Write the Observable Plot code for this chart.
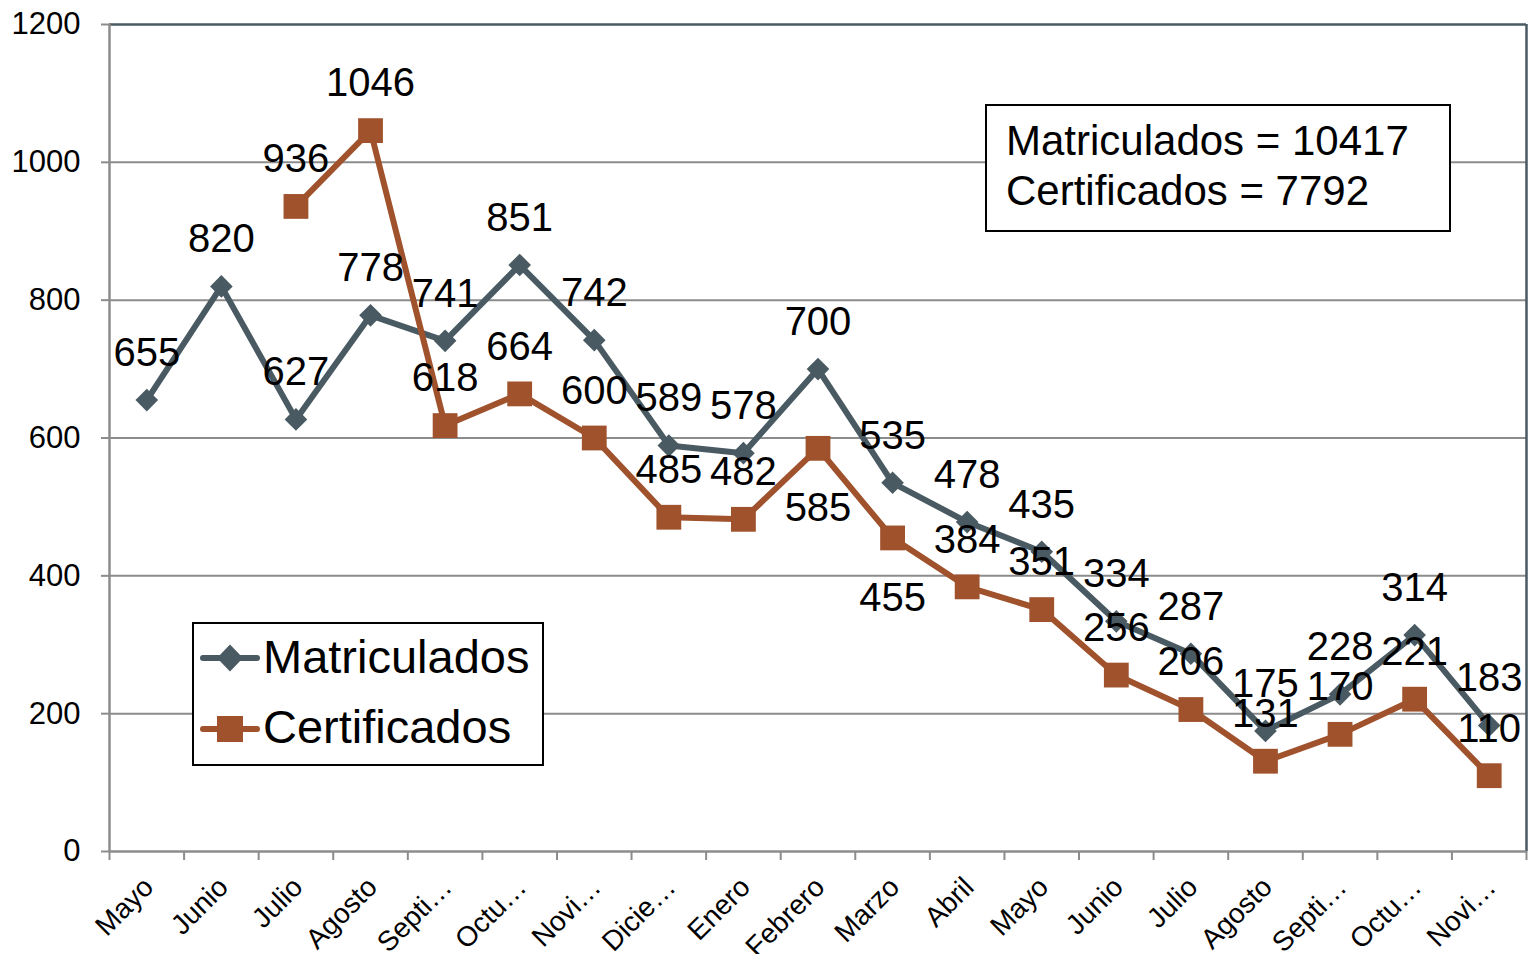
<!DOCTYPE html>
<html><head><meta charset="utf-8">
<script src="https://cdn.jsdelivr.net/npm/d3@7"></script>
<script src="https://cdn.jsdelivr.net/npm/@observablehq/plot@0.6"></script>
<style>body{margin:0;background:#fff;} #chart svg{display:block;}</style>
</head><body><div id="chart"></div>
<script>
const months = ["Mayo","Junio","Julio","Agosto","Septi…","Octu…","Novi…","Dicie…","Enero","Febrero","Marzo","Abril","Mayo","Junio","Julio","Agosto","Septi…","Octu…","Novi…"];
const matriculados = [655,820,627,778,741,851,742,589,578,700,535,478,435,334,287,175,228,314,183];
const certificados = [null,null,936,1046,618,664,600,485,482,585,455,384,351,256,206,131,170,221,110];
const yTicks = [0,200,400,600,800,1000,1200];
const seriesNames = ["Matriculados","Certificados"];
const totals = ["Matriculados = 10417","Certificados = 7792"];
const certLabelBelow = [9,10];

const SLATE = "#4a5a63", RUST = "#a0522d", GRAY = "#8c8c8c";
const FONT = "'Liberation Sans', Arial, Helvetica, sans-serif";

const matRows = matriculados.map((v,i)=>({i, x:i+0.5, v}));
const certRows = certificados.map((v,i)=>({i, x:i+0.5, v})).filter(d=>d.v!=null);
const monthRows = months.map((m,i)=>({x:i+0.5, m}));

const svg = Plot.plot({
  width: 1528, height: 954,
  marginLeft: 109, marginRight: 2, marginTop: 24, marginBottom: 103,
  style: {fontFamily: FONT, background: "#fff", color: "#000", overflow: "visible"},
  x: {domain: [0, 19]},
  y: {domain: [0, 1200]},
  marks: [
    Plot.gridY(yTicks.filter(t=>t>0 && t<1200), {stroke: GRAY, strokeOpacity: 1, strokeWidth: 2}),
    Plot.ruleY([1200], {stroke: SLATE, strokeWidth: 2.5}),
    Plot.ruleX([19], {stroke: SLATE, strokeWidth: 2.5}),
    Plot.ruleX([0], {stroke: GRAY, strokeWidth: 2.5}),
    Plot.ruleY([0], {stroke: GRAY, strokeWidth: 2.5}),
    Plot.axisY({ticks: yTicks, tickSize: 8, tickFormat: () => "", stroke: GRAY, strokeWidth: 2, label: null}),
    Plot.axisY({ticks: yTicks, tickSize: 0, tickPadding: 29, tickFormat: d => String(d), fontSize: 31, fill: "#000", label: null}),
    Plot.axisX({ticks: d3.range(20), tickSize: 9, tickFormat: () => "", stroke: GRAY, strokeWidth: 2, label: null}),
    Plot.text(monthRows, {x: "x", y: () => 0, text: "m", rotate: -45, textAnchor: "end", lineAnchor: "middle", dx: 2, dy: 31, fontSize: 28, fill: "#000"}),
    Plot.line(matRows, {x: "x", y: "v", stroke: SLATE, strokeWidth: 6, strokeLinejoin: "round"}),
    Plot.dot(matRows, {x: "x", y: "v", symbol: "diamond2", r: 10.2, fill: SLATE, stroke: "none"}),
    Plot.line(certRows, {x: "x", y: "v", stroke: RUST, strokeWidth: 6, strokeLinejoin: "round"}),
    Plot.dot(certRows, {x: "x", y: "v", symbol: "square", r: 14, fill: RUST, stroke: "none"}),
    Plot.text(matRows, {x: "x", y: "v", text: d => String(d.v), dy: -47, fontSize: 40, fill: "#000"}),
    Plot.text(certRows.filter(d => !certLabelBelow.includes(d.i)), {x: "x", y: "v", text: d => String(d.v), dy: -47, fontSize: 40, fill: "#000"}),
    Plot.text(certRows.filter(d => certLabelBelow.includes(d.i)), {x: "x", y: "v", text: d => String(d.v), dy: 60, fontSize: 40, fill: "#000"})
  ]
});
document.getElementById("chart").appendChild(svg);

// Legend
const s = d3.select(svg);
const lg = s.append("g").attr("font-family", FONT).attr("text-anchor", "start");
lg.append("rect").attr("x", 193).attr("y", 623).attr("width", 350).attr("height", 142)
  .attr("fill", "#fff").attr("stroke", "#000").attr("stroke-width", 2);
const legendItems = [
  {name: seriesNames[0], color: SLATE, sym: "diamond", cy: 658, ty: 673},
  {name: seriesNames[1], color: RUST, sym: "square", cy: 729, ty: 743}
];
legendItems.forEach(it => {
  lg.append("line").attr("x1", 203).attr("x2", 257).attr("y1", it.cy).attr("y2", it.cy)
    .attr("stroke", it.color).attr("stroke-width", 6).attr("stroke-linecap", "round");
  if (it.sym === "diamond") {
    lg.append("path").attr("d", `M230,${it.cy-13.5}L243,${it.cy}L230,${it.cy+13.5}L217,${it.cy}Z`).attr("fill", it.color);
  } else {
    lg.append("rect").attr("x", 217).attr("y", it.cy-13).attr("width", 26).attr("height", 26).attr("fill", it.color);
  }
  lg.append("text").attr("x", 263).attr("y", it.ty).attr("font-size", 47).attr("fill", "#000").attr("text-anchor", "start").text(it.name);
});

// Totals box
const tb = s.append("g").attr("font-family", FONT).attr("text-anchor", "start");
tb.append("rect").attr("x", 986).attr("y", 105).attr("width", 464).attr("height", 126)
  .attr("fill", "#fff").attr("stroke", "#000").attr("stroke-width", 2);
totals.forEach((t, k) => {
  tb.append("text").attr("x", 1006).attr("y", 155 + 50*k).attr("font-size", 42).attr("fill", "#000").attr("text-anchor", "start").text(t);
});
</script>
</body></html>
